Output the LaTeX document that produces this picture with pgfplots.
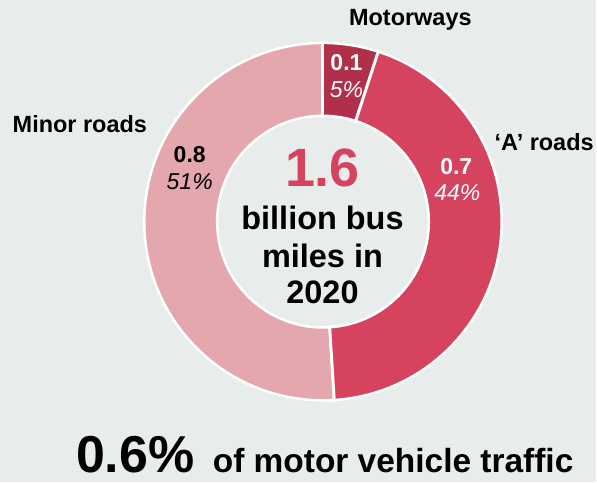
\documentclass[border=0pt]{standalone}
\usepackage{fontspec}
\setmainfont{Liberation Sans}
\usepackage{pgfplots}
\usepackage{pgfplotstable}
\pgfplotsset{compat=1.18}
\definecolor{bg}{HTML}{E8ECEB}
\definecolor{cMot}{HTML}{B0304A}
\definecolor{cA}{HTML}{D6435E}
\definecolor{cMin}{HTML}{E4A7AE}

\pgfplotstableread{
name value share
Motorways 0.1 5
Aroads 0.7 44
Minor 0.8 51
}\roads

\pgfplotstablegetelem{0}{share}\of\roads \edef\sM{\pgfplotsretval}
\pgfplotstablegetelem{1}{share}\of\roads \edef\sA{\pgfplotsretval}
\pgfplotstablegetelem{2}{share}\of\roads \edef\sN{\pgfplotsretval}
\pgfmathsetmacro\aA{90}
\pgfmathsetmacro\aB{90-3.6*\sM}
\pgfmathsetmacro\aC{\aB-3.6*\sA}
\pgfmathsetmacro\aD{\aC-3.6*\sN}
\def\cx{323.5}
\def\cy{261}
\def\Ro{179}
\def\Ri{106}

\newcommand{\sector}[3]{%
  \fill[#1] (axis cs:{\cx+\Ro*cos(#2)},{\cy+\Ro*sin(#2)})
    arc[start angle=#2,end angle=#3,radius=\Ro pt]
    -- (axis cs:{\cx+\Ri*cos(#3)},{\cy+\Ri*sin(#3)})
    arc[start angle=#3,end angle=#2,radius=\Ri pt] -- cycle;}
\newcommand{\sep}[1]{%
  \draw[white,line width=3pt] (axis cs:{\cx+(\Ri-2)*cos(#1)},{\cy+(\Ri-2)*sin(#1)}) -- (axis cs:{\cx+(\Ro+2)*cos(#1)},{\cy+(\Ro+2)*sin(#1)});}
\newcommand{\fs}[1]{\fontsize{#1}{#1}\selectfont}

\begin{document}
\begin{tikzpicture}
\begin{axis}[width=597pt,height=483pt,scale only axis,
  xmin=0,xmax=597,ymin=0,ymax=483,hide axis,clip=false]
\fill[bg] (axis cs:0,0) rectangle (axis cs:597,483);
\sector{cMot}{\aA}{\aB}
\sector{cA}{\aB}{\aC}
\sector{cMin}{\aC}{\aD}
\sep{\aA}\sep{\aB}\sep{\aC}
\draw[white,line width=2.5pt] (axis cs:\cx,\cy) circle[radius=\Ro pt];
\draw[white,line width=2.5pt] (axis cs:\cx,\cy) circle[radius=\Ri pt];
% category labels
\node[font=\fs{23.5}\bfseries] at (axis cs:411,463) {Motorways};
\node[font=\fs{23.5}\bfseries] at (axis cs:545,341) {‘A’ roads};
\node[font=\fs{23.5}\bfseries] at (axis cs:80,359) {Minor roads};
% values
\node[font=\fs{23}\bfseries,white] at (axis cs:347,420) {0.1};
\node[font=\fs{23}\itshape,white] at (axis cs:347,393) {5\%};
\node[font=\fs{23}\bfseries,white] at (axis cs:457,316) {0.7};
\node[font=\fs{23}\itshape,white] at (axis cs:458,290) {44\%};
\node[font=\fs{23}\bfseries] at (axis cs:190,328) {0.8};
\node[font=\fs{23}\itshape] at (axis cs:190,301) {51\%};
% centre
\node[font=\fs{54}\bfseries,cA] at (axis cs:323,315) {1.6};
\node[font=\fs{32.5}\bfseries] at (axis cs:323,265) {billion bus};
\node[font=\fs{32.5}\bfseries] at (axis cs:323,227) {miles in};
\node[font=\fs{32.5}\bfseries] at (axis cs:323,190) {2020};
% bottom
\node[font=\fs{52}\bfseries,anchor=base west,inner sep=0pt] at (axis cs:76,10) {0.6\%};
\node[font=\fs{33.5}\bfseries,anchor=base west,inner sep=0pt] at (axis cs:213,10) {of motor vehicle traffic};
\end{axis}
\end{tikzpicture}
\end{document}
